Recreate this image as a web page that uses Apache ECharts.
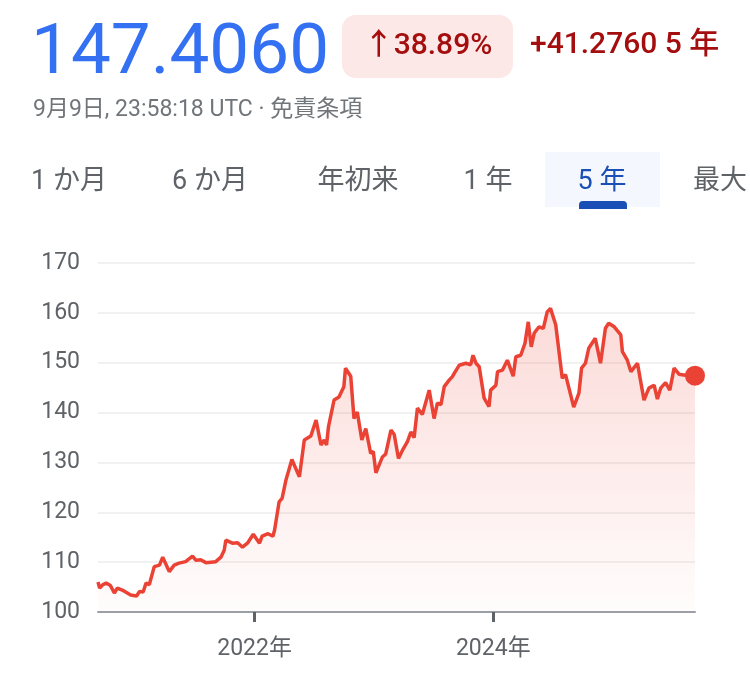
<!DOCTYPE html>
<html>
<head>
<meta charset="utf-8">
<style>
html,body{margin:0;padding:0;background:#fff;}
#chart{width:750px;height:676px;}
</style>
<script src="https://cdn.jsdelivr.net/npm/echarts@6/dist/echarts.min.js"></script>
</head>
<body>
<div id="chart"></div>
<script>
var dates = [
'2020-09-09','2020-09-14','2020-09-24','2020-10-04','2020-10-17','2020-10-29','2020-11-07','2020-11-22','2020-12-18',
'2021-01-05','2021-01-14','2021-01-25','2021-02-03','2021-02-13','2021-02-28','2021-03-16','2021-03-26','2021-04-15',
'2021-04-30','2021-05-15','2021-06-04','2021-06-25','2021-07-05','2021-07-20','2021-08-05','2021-09-04','2021-09-20',
'2021-09-30','2021-10-05','2021-10-25','2021-11-10','2021-11-25','2021-12-10','2021-12-28',
'2022-01-16','2022-01-24','2022-02-11','2022-02-26','2022-03-03','2022-03-17','2022-03-26','2022-04-07','2022-04-25',
'2022-05-18','2022-06-02','2022-06-22','2022-07-08','2022-07-23','2022-08-02','2022-08-09','2022-08-15','2022-09-01',
'2022-09-16','2022-10-01','2022-10-06','2022-10-22','2022-11-01','2022-11-11','2022-11-25','2022-12-07','2022-12-22','2022-12-30',
'2023-01-07','2023-01-27','2023-02-06','2023-02-22','2023-03-04','2023-03-17','2023-03-29','2023-04-13','2023-04-24',
'2023-05-04','2023-05-14','2023-05-29','2023-06-19','2023-07-04','2023-07-14','2023-07-25','2023-08-04','2023-08-19',
'2023-08-29','2023-09-04','2023-09-19','2023-10-09','2023-10-24','2023-10-31','2023-11-09','2023-11-19','2023-12-04',
'2023-12-19','2023-12-24',
'2024-01-09','2024-01-14','2024-01-29','2024-02-13','2024-03-02','2024-03-10','2024-03-25','2024-04-07','2024-04-17',
'2024-04-26','2024-05-05','2024-05-20','2024-06-02','2024-06-14','2024-06-24','2024-07-10','2024-07-30','2024-08-09',
'2024-08-21','2024-09-03','2024-09-19','2024-09-27','2024-10-09','2024-10-19','2024-11-08','2024-11-24','2024-12-09','2024-12-19',
'2025-01-05','2025-01-25','2025-01-30','2025-02-14','2025-02-25','2025-03-17','2025-04-06','2025-04-21','2025-05-07',
'2025-05-17','2025-05-27','2025-06-11','2025-06-24','2025-07-07','2025-07-22','2025-08-11','2025-08-31','2025-09-09'
];
var rates = [
106.0,104.8,105.5,105.8,105.3,103.8,104.8,104.4,103.4,
103.2,104.1,104.0,105.8,105.5,109.1,109.4,111.0,108.1,
109.4,109.8,110.1,111.2,110.4,110.5,109.9,110.1,111.0,
112.4,114.4,113.8,113.9,113.0,113.8,115.6,
113.8,115.2,115.7,115.2,116.4,122.1,122.8,126.5,130.6,
127.1,134.5,135.3,138.5,133.5,134.5,133.5,137.2,142.5,
143.1,145.2,148.9,147.3,138.8,140.1,134.5,136.8,131.8,132.2,
127.9,131.1,131.7,136.5,135.6,130.8,132.4,134.1,136.1,
135.0,140.9,139.6,144.5,138.8,141.9,141.6,145.2,146.5,
147.2,147.9,149.5,149.9,149.6,151.5,149.9,149.2,142.9,
141.2,144.5,
145.5,148.2,148.5,150.5,147.3,151.2,151.5,153.9,158.2,
153.2,155.9,157.2,156.9,160.2,160.9,157.6,146.9,147.6,
144.5,141.1,143.9,148.9,149.9,152.9,154.9,149.9,156.9,157.9,
157.2,155.6,152.2,150.5,148.2,149.9,142.5,144.9,145.5,
142.7,144.9,146.0,144.5,148.9,147.7,147.5,147.5,147.406
];
var yTicks = [100, 170, 10];
var yearTicks = ['2022-01-01', '2024-01-01'];
var axisRange = ['2020-09-09', '2025-09-09'];
var priceText = '147.4060';
var changePct = '↑38.89%';
var changeAbs = '+41.2760 5 年';
var stamp = '9月9日, 23:58:18 UTC · 免責条項';
var tabs = ['1 か月', '6 か月', '年初来', '1 年', '5 年', '最大'];

function ts(s){ var p = s.split('-'); return new Date(+p[0], +p[1]-1, +p[2]).getTime(); }

var FONT = 'Roboto, "Noto Sans CJK JP", sans-serif';
var seriesData = dates.map(function(d, i){ return [ts(d), rates[i]]; });
var last = seriesData[seriesData.length - 1];

var tabX = [69, 210, 358, 488, 602, 693];
var tabAlign = ['center','center','center','center','center','left'];

var graphics = [
  {type:'text', left:31, top:20, style:{text:priceText, font:'400 71px ' + FONT, fill:'#3470f2'}},
  {type:'rect', shape:{x:342, y:15, width:171, height:63, r:14}, style:{fill:'#fce8e6'}},
  {type:'text', x:428, y:46, style:{text:changePct, font:'500 30px ' + FONT, fill:'#a50e0e', align:'center', verticalAlign:'middle'}},
  {type:'text', x:530, y:45, style:{text:changeAbs, font:'500 30px ' + FONT, fill:'#a50e0e', align:'left', verticalAlign:'middle'}},
  {type:'text', x:33, y:110, style:{text:stamp, font:'400 23px ' + FONT, fill:'#70757a', align:'left', verticalAlign:'middle'}},
  {type:'rect', shape:{x:545, y:152, width:115, height:55}, style:{fill:'#f4f8fe'}},
  {type:'rect', shape:{x:579, y:201, width:48, height:8, r:[4,4,0,0]}, style:{fill:'#1a4fb5'}}
];
tabs.forEach(function(t, i){
  graphics.push({type:'text', x:tabX[i], y:182, style:{text:t, font:'400 27px ' + FONT,
    fill: i === 4 ? '#1a4fb5' : '#5f6368', align:tabAlign[i], verticalAlign:'middle'}});
});

var chart = echarts.init(document.getElementById('chart'), null, {renderer:'canvas'});
chart.setOption({
  animation:false,
  backgroundColor:'#fff',
  grid:{left:98, right:55, top:263, bottom:64, containLabel:false},
  graphic:graphics,
  xAxis:{
    type:'value',
    min:ts(axisRange[0]), max:ts(axisRange[1]),
    axisLine:{show:true, lineStyle:{color:'#9aa0a6', width:2}},
    axisTick:{show:true, customValues:yearTicks.map(ts), length:10, lineStyle:{color:'#5f6368', width:3}},
    axisLabel:{show:true, customValues:yearTicks.map(ts), margin:26, fontSize:23, color:'#5f6368', fontFamily:FONT,
      formatter:function(v){ return new Date(v).getFullYear() + '年'; }},
    splitLine:{show:false}
  },
  yAxis:{
    type:'value', min:yTicks[0], max:yTicks[1], interval:yTicks[2],
    axisLine:{show:false}, axisTick:{show:false},
    axisLabel:{fontSize:23, color:'#5f6368', fontFamily:FONT, margin:18},
    splitLine:{show:true, lineStyle:{color:'#f1f1f1', width:2}}
  },
  series:[
    {type:'line', data:seriesData, showSymbol:false, smooth:false,
     lineStyle:{color:'#ea4335', width:3.5}, itemStyle:{color:'#ea4335'},
     areaStyle:{origin:'start', color:new echarts.graphic.LinearGradient(0,0,0,1,[
       {offset:0, color:'rgba(234,67,53,0.28)'},
       {offset:1, color:'rgba(234,67,53,0.02)'}])}
    },
    {type:'scatter', data:[last], symbolSize:20, itemStyle:{color:'#ea4335', opacity:1}, z:5}
  ]
});
</script>
</body>
</html>
